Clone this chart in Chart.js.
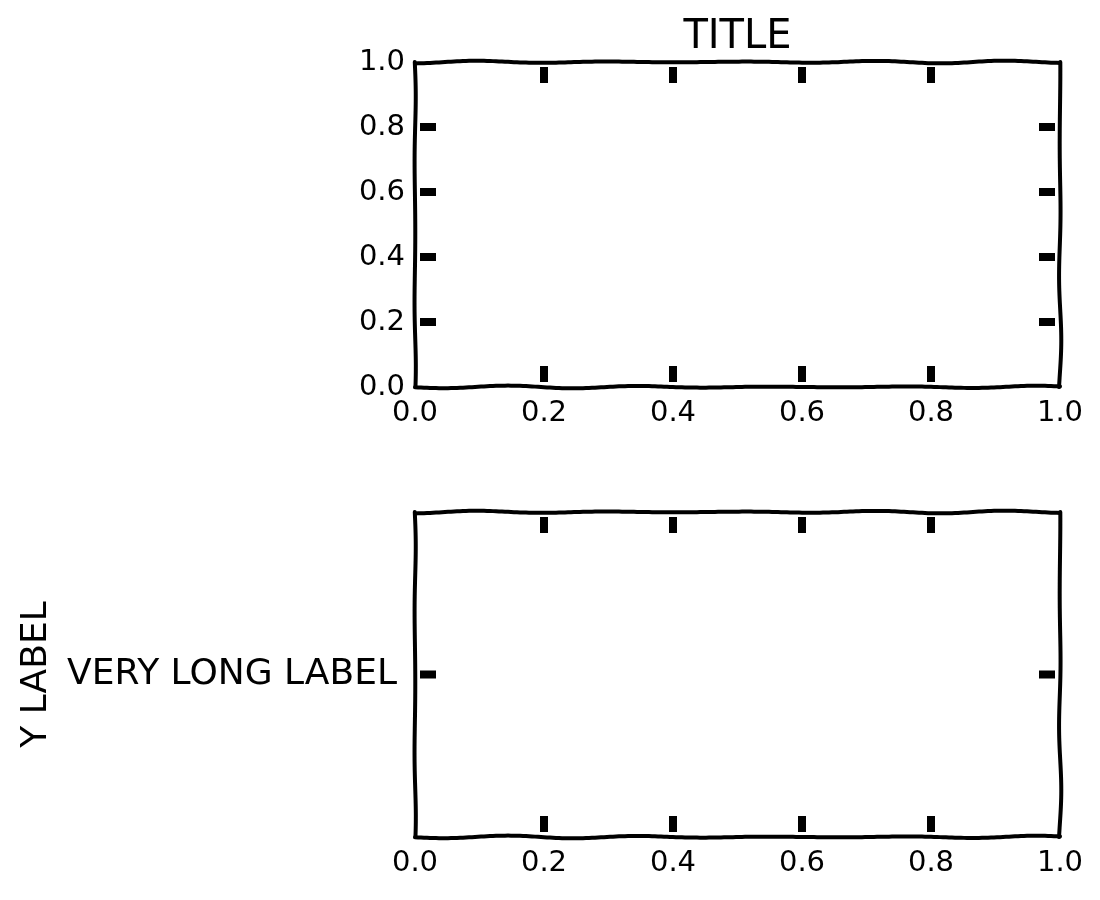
<!DOCTYPE html>
<html>
<head>
<meta charset="utf-8">
<script src="https://cdn.jsdelivr.net/npm/chart.js@4.4.1/dist/chart.umd.min.js"></script>
<style>
  html, body { margin: 0; padding: 0; background: #fff; }
  #wrap { position: relative; width: 1100px; height: 900px; }
  canvas { position: absolute; left: 0; }
  #c1 { top: 0; }
  #c2 { top: 450px; }
</style>
</head>
<body>
<div id="wrap">
  <canvas id="c1" width="1100" height="450"></canvas>
  <canvas id="c2" width="1100" height="450"></canvas>
</div>
<script>
// ---- data ----
const seriesPoints = [];                       // both panels are empty
const xTickValues = [0, 0.2, 0.4, 0.6, 0.8, 1.0];
const xTickLabels = ['0.0', '0.2', '0.4', '0.6', '0.8', '1.0'];
const topYTickValues = [0, 0.2, 0.4, 0.6, 0.8, 1.0];
const topYTickLabels = ['0.0', '0.2', '0.4', '0.6', '0.8', '1.0'];
const bottomYTickValues = [0.5];
const bottomYTickLabels = ['VERY LONG LABEL'];
const titleText = 'TITLE';
const yLabelText = 'Y LABEL';

const FONT = "'DejaVu Sans', sans-serif";
Chart.defaults.color = '#000';
Chart.defaults.font.family = FONT;

function wiggle(ctx, x0, y0, x1, y1, phase) {
  const len = Math.hypot(x1 - x0, y1 - y0);
  const nx = -(y1 - y0) / len, ny = (x1 - x0) / len;
  ctx.beginPath();
  const n = Math.max(2, Math.round(len / 3));
  for (let i = 0; i <= n; i++) {
    const t = i / n;
    const d = len * t;
    const off = 1.4 * Math.sin(d / 21 + phase) * (0.6 + 0.4 * Math.sin(d / 90 + phase));
    const x = x0 + (x1 - x0) * t + nx * off;
    const y = y0 + (y1 - y0) * t + ny * off;
    if (i === 0) ctx.moveTo(x, y); else ctx.lineTo(x, y);
  }
  ctx.stroke();
}

const xkcdFrame = {
  id: 'xkcdFrame',
  afterDraw(chart, args, opts) {
    const ctx = chart.ctx;
    const a = chart.chartArea;
    const xs = chart.scales.x, ys = chart.scales.y;
    ctx.save();
    ctx.strokeStyle = '#000';
    ctx.lineCap = 'round';
    ctx.lineJoin = 'round';
    // inward ticks on all four sides
    ctx.fillStyle = '#000';
    const tl = 16, gap = 5, tw = 8;
    xs.ticks.forEach(t => {
      if (t.value <= xs.min || t.value >= xs.max) return;
      const px = xs.getPixelForValue(t.value);
      ctx.fillRect(px - tw / 2, a.bottom - gap - tl, tw, tl);
      ctx.fillRect(px - tw / 2, a.top + gap, tw, tl);
    });
    ys.ticks.forEach(t => {
      if (t.value <= ys.min || t.value >= ys.max) return;
      const py = ys.getPixelForValue(t.value);
      ctx.fillRect(a.left + gap, py - tw / 2, tl, tw);
      ctx.fillRect(a.right - gap - tl, py - tw / 2, tl, tw);
    });
    // sketchy spines
    ctx.lineWidth = 4;
    wiggle(ctx, a.left, a.bottom, a.right, a.bottom, 0.3);
    wiggle(ctx, a.left, a.top, a.right, a.top, 1.7);
    wiggle(ctx, a.left, a.top, a.left, a.bottom, 2.9);
    wiggle(ctx, a.right, a.top, a.right, a.bottom, 4.1);
    // title centred over the plot area
    if (opts && opts.title) {
      ctx.fillStyle = '#000';
      ctx.font = '40px ' + FONT;
      ctx.textAlign = 'center';
      ctx.textBaseline = 'middle';
      ctx.fillText(opts.title, (a.left + a.right) / 2, 38);
    }
    ctx.restore();
  }
};

function makeChart(id, yVals, yLabels, opts) {
  return new Chart(document.getElementById(id), {
    type: 'scatter',
    data: { datasets: [{ data: seriesPoints, showLine: false }] },
    plugins: [xkcdFrame],
    options: {
      responsive: false,
      animation: false,
      events: [],
      layout: { padding: { top: 62, right: 40, left: 0, bottom: 0 } },
      plugins: {
        legend: { display: false },
        tooltip: { enabled: false },
        title: { display: false },
        xkcdFrame: { title: opts.title || null }
      },
      scales: {
        x: {
          type: 'linear', min: 0, max: 1,
          grid: { display: false, drawTicks: false },
          border: { display: false },
          afterBuildTicks: s => { s.ticks = xTickValues.map(v => ({ value: v })); },
          afterFit: s => { s.height = 63; },
          ticks: {
            autoSkip: false, maxRotation: 0, padding: 9,
            font: { family: FONT, size: 29 },
            callback: (v, i) => xTickLabels[i]
          }
        },
        y: {
          type: 'linear', min: 0, max: 1,
          grid: { display: false, drawTicks: false },
          border: { display: false },
          afterBuildTicks: s => { s.ticks = yVals.map(v => ({ value: v })); },
          afterFit: s => { s.width = 415; },
          title: opts.yTitle ? {
            display: true, text: opts.yTitle, color: '#000',
            font: { family: FONT, size: 36 },
            padding: { top: 15, bottom: 0 }
          } : { display: false },
          ticks: {
            autoSkip: false, padding: opts.yTickPad,
            font: { family: FONT, size: opts.yTickSize },
            callback: (v, i) => yLabels[i]
          }
        }
      }
    }
  });
}

makeChart('c1', topYTickValues, topYTickLabels, { title: titleText, yTickSize: 29, yTickPad: 10 });
makeChart('c2', bottomYTickValues, bottomYTickLabels, { yTitle: yLabelText, yTickSize: 36, yTickPad: 18 });
</script>
</body>
</html>
